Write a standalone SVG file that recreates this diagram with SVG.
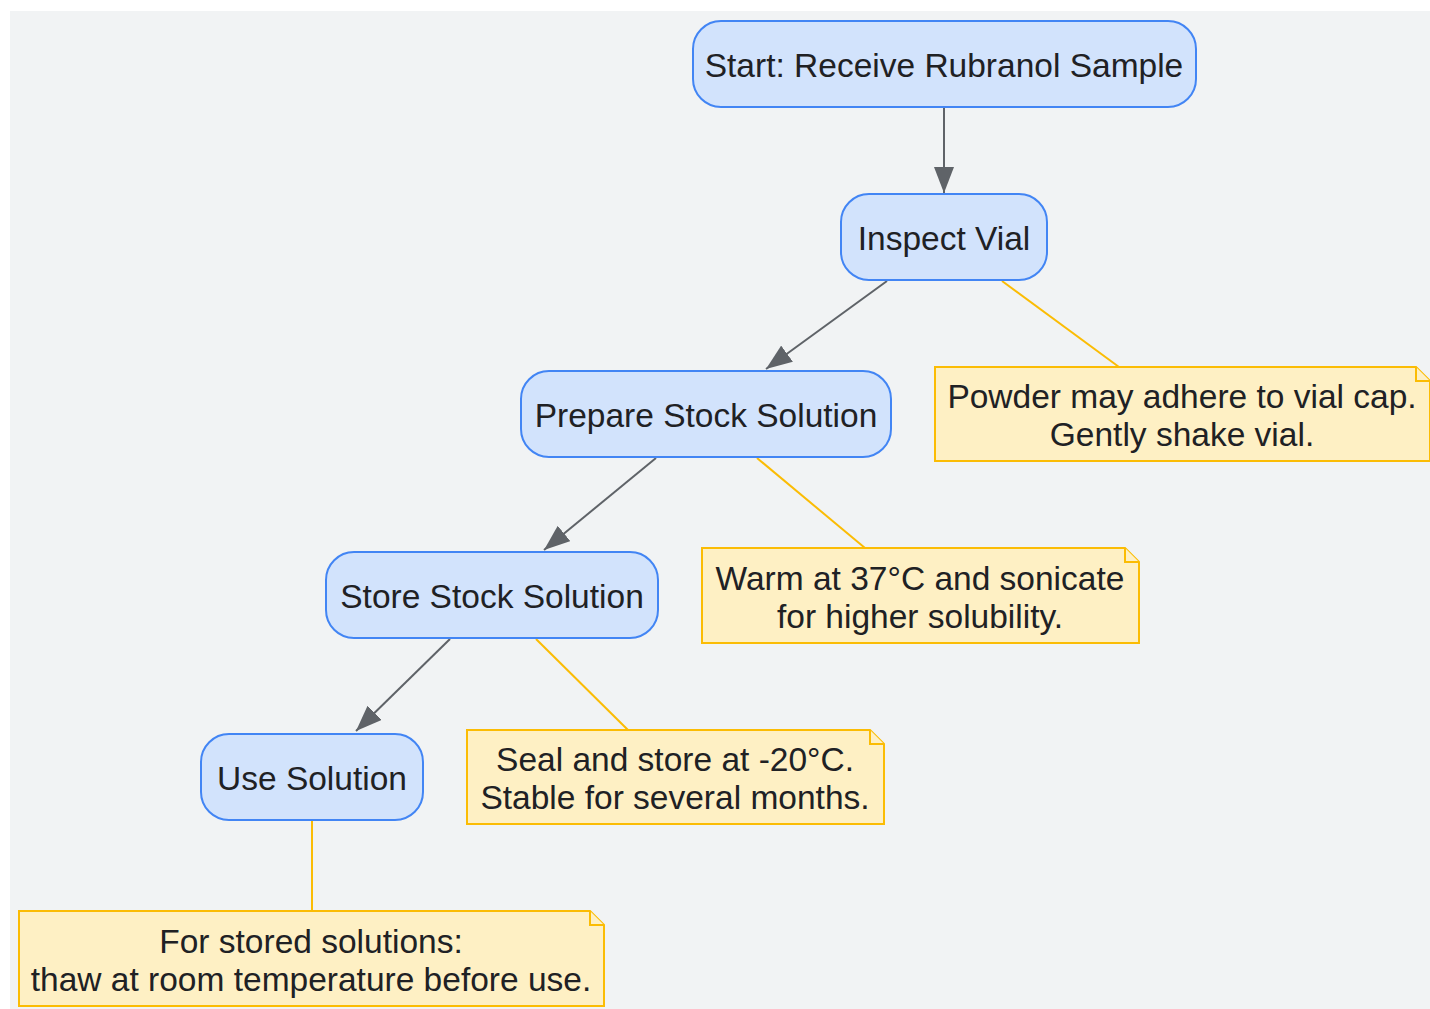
<svg xmlns="http://www.w3.org/2000/svg" width="1430" height="1009" viewBox="0 0 1430 1009">
<style>
.bg{fill:#f1f3f4}
.node rect{fill:#d2e3fc;stroke:#4285f4;stroke-width:2}
.note path.box{fill:#fef0c4;stroke:#fbbc04;stroke-width:2}
.note path.fold{fill:#fef0c4;stroke:#fbbc04;stroke-width:2}
text{font-family:"Liberation Sans",Arial,sans-serif;font-size:33.5px;fill:#202124;text-anchor:middle}
.edge{stroke:#5f6368;stroke-width:2;fill:none}
.link{stroke:#fbbc04;stroke-width:2;fill:none}
</style>
<defs>
<marker id="arrow" viewBox="0 0 26 20" refX="26" refY="10" markerWidth="26" markerHeight="20" markerUnits="userSpaceOnUse" orient="auto">
<path d="M0,0 L26,10 L0,20 z" fill="#5f6368"/>
</marker>
</defs>
<rect class="bg" x="10" y="11" width="1420" height="998"/>
<g id="connectors">
<line class="edge" x1="944" y1="107" x2="944" y2="193" marker-end="url(#arrow)"/>
<line class="edge" x1="887" y1="281" x2="766" y2="369" marker-end="url(#arrow)"/>
<line class="edge" x1="656" y1="458" x2="544" y2="550" marker-end="url(#arrow)"/>
<line class="edge" x1="450" y1="639" x2="356" y2="731" marker-end="url(#arrow)"/>
<line class="link" x1="1002" y1="281" x2="1119" y2="367"/>
<line class="link" x1="757" y1="458" x2="865" y2="548"/>
<line class="link" x1="536" y1="639" x2="628" y2="730"/>
<line class="link" x1="312" y1="821" x2="312" y2="911"/>
</g>
<g id="start" class="node">
<rect x="693" y="21" width="503" height="86" rx="28" ry="28"/>
<text x="944" y="77">Start: Receive Rubranol Sample</text>
</g>
<g id="inspect" class="node">
<rect x="841" y="194" width="206" height="86" rx="28" ry="28"/>
<text x="944" y="250">Inspect Vial</text>
</g>
<g id="prepare" class="node">
<rect x="521" y="371" width="370" height="86" rx="28" ry="28"/>
<text x="706" y="427">Prepare Stock Solution</text>
</g>
<g id="store" class="node">
<rect x="326" y="552" width="332" height="86" rx="28" ry="28"/>
<text x="492" y="608">Store Stock Solution</text>
</g>
<g id="use" class="node">
<rect x="201" y="734" width="222" height="86" rx="28" ry="28"/>
<text x="312" y="790">Use Solution</text>
</g>
<g id="note1" class="note">
<path class="box" d="M935,367 H1416 L1430,381 V461 H935 Z"/>
<path class="fold" d="M1416,367 V381 H1430"/>
<text x="1182" y="408">Powder may adhere to vial cap.</text>
<text x="1182" y="446">Gently shake vial.</text>
</g>
<g id="note2" class="note">
<path class="box" d="M702,548 H1125 L1139,562 V643 H702 Z"/>
<path class="fold" d="M1125,548 V562 H1139"/>
<text x="920" y="590">Warm at 37°C and sonicate</text>
<text x="920" y="628">for higher solubility.</text>
</g>
<g id="note3" class="note">
<path class="box" d="M467,730 H870 L884,744 V824 H467 Z"/>
<path class="fold" d="M870,730 V744 H884"/>
<text x="675" y="771">Seal and store at -20°C.</text>
<text x="675" y="809">Stable for several months.</text>
</g>
<g id="note4" class="note">
<path class="box" d="M19,911 H590 L604,925 V1006 H19 Z"/>
<path class="fold" d="M590,911 V925 H604"/>
<text x="311" y="953">For stored solutions:</text>
<text x="311" y="991">thaw at room temperature before use.</text>
</g>
</svg>
